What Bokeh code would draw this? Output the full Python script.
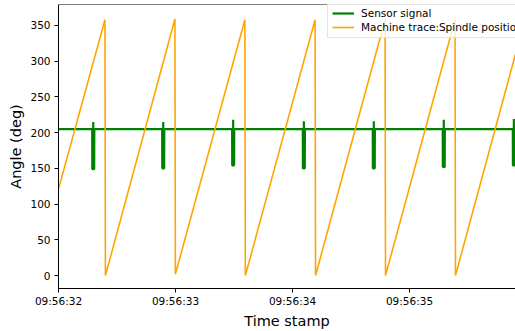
from bokeh.plotting import figure
from bokeh.models import (ColumnDataSource, FixedTicker, Legend, LegendItem, Span)
from bokeh.embed import file_html
from bokeh.resources import INLINE

# ---- data (time in seconds after 09:56:00) ----
tick_times = [32, 33, 34, 35]
tick_labels = ["09:56:32", "09:56:33", "09:56:34", "09:56:35"]

# Machine trace: spindle position (sawtooth vertices)
spindle_t = [32.000, 32.397, 32.401, 32.995, 32.999, 33.593, 33.597,
             34.193, 34.197, 34.791, 34.795, 35.389, 35.393, 35.906]
spindle_v = [121, 358, 0, 359, 2, 358, 0,
             358, 0, 358, 0, 358, 0, 310]

# Sensor signal (baseline ~205 with short dips and spikes)
sensor_t = [32.000,
            32.288, 32.289, 32.296, 32.297, 32.298, 32.305, 32.306,
            32.886, 32.887, 32.894, 32.895, 32.896, 32.903, 32.904,
            33.484, 33.485, 33.492, 33.493, 33.494, 33.501, 33.502,
            34.088, 34.089, 34.096, 34.097, 34.098, 34.105, 34.106,
            34.686, 34.687, 34.694, 34.695, 34.696, 34.703, 34.704,
            35.284, 35.285, 35.292, 35.293, 35.294, 35.301, 35.302,
            35.883, 35.884, 35.891, 35.892, 35.893, 35.900, 35.901,
            35.906]
sensor_v = [205,
            205, 149, 149, 215, 149, 149, 205,
            205, 150, 150, 215, 150, 150, 205,
            205, 154, 154, 218, 154, 154, 205,
            205, 150, 150, 216, 150, 150, 205,
            205, 150, 150, 216, 150, 150, 205,
            205, 152, 152, 218, 152, 152, 205,
            205, 154, 154, 219, 154, 154, 205,
            205]

y_ticks = [0, 50, 100, 150, 200, 250, 300, 350]

FONT = "DejaVu Sans"

p = figure(width=515, height=331, output_backend="svg", toolbar_location=None,
           x_range=(32.0, 35.906), y_range=(-18.1, 379.3),
           min_border_left=58, min_border_right=0, min_border_top=4,
           min_border_bottom=42)
p.outline_line_color = None
p.xgrid.visible = False
p.ygrid.visible = False
p.background_fill_color = "white"
p.border_fill_color = "white"

s_sensor = ColumnDataSource(dict(t=sensor_t, v=sensor_v))
s_spindle = ColumnDataSource(dict(t=spindle_t, v=spindle_v))

r1 = p.line("t", "v", source=s_sensor, line_color="green", line_width=2.2)
r2 = p.line("t", "v", source=s_spindle, line_color="orange", line_width=1.6)

p.add_layout(Span(location=379.3, dimension="width", line_color="black",
                  line_width=1))

xa = p.xaxis[0]
xa.ticker = FixedTicker(ticks=tick_times)
xa.major_label_overrides = {t: l for t, l in zip(tick_times, tick_labels)}
xa.minor_tick_line_color = None
xa.major_tick_in = 0
xa.major_tick_out = 4
xa.major_label_standoff = 2
xa.axis_label = "Time stamp"
xa.axis_label_standoff = 3
xa.axis_label_text_font = FONT
xa.axis_label_text_font_size = "14.5px"
xa.axis_label_text_font_style = "normal"
xa.major_label_text_font = FONT
xa.major_label_text_font_size = "10.5px"
xa.axis_line_color = "black"
xa.major_label_text_color = "black"
xa.axis_label_text_color = "black"

ya = p.yaxis[0]
ya.ticker = FixedTicker(ticks=y_ticks)
ya.minor_tick_line_color = None
ya.major_tick_in = 0
ya.major_tick_out = 4
ya.major_label_standoff = 4
ya.axis_label = "Angle (deg)"
ya.axis_label_standoff = 3
ya.axis_label_text_font = FONT
ya.axis_label_text_font_size = "14.5px"
ya.axis_label_text_font_style = "normal"
ya.major_label_text_font = FONT
ya.major_label_text_font_size = "10.5px"
ya.axis_line_color = "black"
ya.major_label_text_color = "black"
ya.axis_label_text_color = "black"

legend = Legend(items=[LegendItem(label="Sensor signal", renderers=[r1]),
                       LegendItem(label="Machine trace:Spindle position", renderers=[r2])],
                location=(269, 250), orientation="vertical")
legend.label_text_font = FONT
legend.label_text_font_size = "10.5px"
legend.label_text_color = "black"
legend.label_height = 12
legend.glyph_height = 12
legend.glyph_width = 22
legend.label_standoff = 7
legend.spacing = 2
legend.padding = 4
legend.margin = 0
legend.border_line_color = "#cccccc"
legend.background_fill_alpha = 0.8
p.add_layout(legend)

open("out.html", "w").write(file_html(p, INLINE))
